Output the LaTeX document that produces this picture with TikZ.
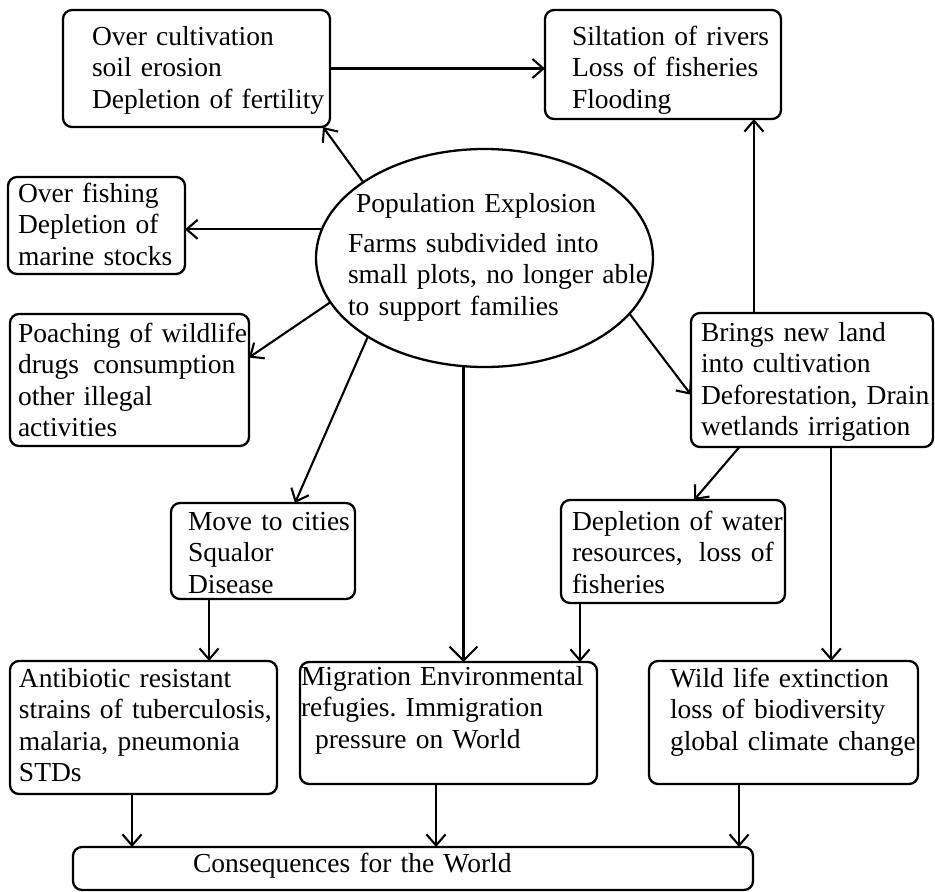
\documentclass[tikz,border=0pt]{standalone}
\usepackage{fontspec}
\setmainfont{Liberation Serif}
\usetikzlibrary{shapes.geometric,arrows.meta,calc}
\frenchspacing
\begin{document}
\begin{tikzpicture}[x=1pt,y=-1pt,
  box/.style={draw, line width=2.3pt, rounded corners=9pt, anchor=north west, inner sep=0pt, outer sep=0pt},
  txt/.style={anchor=base west, inner sep=0pt, outer sep=0pt, align=left, text width=400pt, font=\fontsize{27.5}{31.5}\selectfont},
  arr/.style={line width=2.1pt, -{Straight Barb[length=11pt,width=19pt,line width=2.1pt]}},
  bigarr/.style={line width=2.1pt, -{Straight Barb[length=14pt,width=28pt,line width=2.1pt]}},
]
\useasboundingbox (0,0) rectangle (935,892);

% boxes
\node[box, minimum width=267pt, minimum height=117pt] (over) at (63,10) {};
\node[box, minimum width=236pt, minimum height=109pt] (silt) at (545,10) {};
\node[box, minimum width=177pt, minimum height=97pt] (fish) at (8,177) {};
\node[box, minimum width=239pt, minimum height=132pt] (poach) at (10,314) {};
\node[box, minimum width=242pt, minimum height=134pt] (brings) at (691,313) {};
\node[box, minimum width=184pt, minimum height=96pt] (move) at (171,503) {};
\node[box, minimum width=224pt, minimum height=103pt] (depl) at (561,500) {};
\node[box, minimum width=267pt, minimum height=133pt] (anti) at (10,661) {};
\node[box, minimum width=297pt, minimum height=122pt] (migr) at (300,662) {};
\node[box, minimum width=269pt, minimum height=123pt] (wild) at (649,661) {};
\node[box, minimum width=680pt, minimum height=43pt] (cons) at (73,847) {};
\node[draw, ellipse, line width=2.3pt, minimum width=337pt, minimum height=218pt, inner sep=0pt, outer sep=0pt] (pop) at (484.5,258) {};

% texts
\node[txt] (tover) at (92,45) {Over cultivation\\soil erosion\\Depletion of fertility};
\node[txt] (tsilt) at (572,45) {Siltation of rivers\\Loss of fisheries\\Flooding};
\node[txt] (tfish) at (18,202) {Over fishing\\Depletion of\\marine stocks};
\node[txt] (tpoach) at (18,342) {Poaching of wildlife\\drugs\hspace{5pt} consumption\\other illegal\\activities};
\node[txt] (tpop1) at (356,212) {Population Explosion};
\node[txt] (tpop2) at (348,252) {Farms subdivided into\\small plots, no longer able\\to support families};
\node[txt] (tbrings) at (701,341) {Brings new land\\into cultivation\\Deforestation, Drain\\wetlands irrigation};
\node[txt] (tmove) at (188,530) {Move to cities\\Squalor\\Disease};
\node[txt] (tdepl) at (572,530) {Depletion of water\\resources,\hspace{7pt} loss of\\fisheries};
\node[txt] (tanti) at (19,687) {Antibiotic resistant\\strains of tuberculosis,\\malaria, pneumonia\\STDs};
\node[txt] (tmigr) at (301,685) {Migration Environmental\\refugies. Immigration\\\hspace*{14pt}pressure on World};
\node[txt] (twild) at (670,687) {Wild life extinction\\loss of biodiversity\\global climate change};
\node[txt] (tcons) at (193,872) {Consequences for the World};

% connectors
\draw[arr] (over.east) -- (over.east -| silt.west);
\draw[arr] (pop.148.5) -- ($(over.south west)!0.974!(over.south east)$);
\draw[arr] (pop.170) -- (pop.170 -| fish.east);
\draw[arr] (pop.196.9) -- ($(poach.north east)!0.33!(poach.south east)$);
\draw[arr] (pop.214.9) -- ($(move.north west)!0.674!(move.north east)$);
\draw[bigarr] (pop.259.9) -- (pop.259.9 |- migr.north);
\draw[arr] (pop.339.5) -- ($(brings.north west)!0.61!(brings.south west)$);
\coordinate (bs) at ($(brings.north west)!0.26!(brings.north east)$);
\draw[arr] (bs) -- (bs |- silt.south);
\draw[arr] ($(brings.south west)!0.2!(brings.south east)$) -- ($(depl.north west)!0.594!(depl.north east)$);
\coordinate (bw) at ($(brings.south west)!0.58!(brings.south east)$);
\draw[arr] (bw) -- (bw |- wild.north);
\coordinate (dm) at ($(depl.south west)!0.085!(depl.south east)$);
\draw[arr] (dm) -- (dm |- migr.north);
\coordinate (ma) at ($(move.south west)!0.207!(move.south east)$);
\draw[arr] (ma) -- (ma |- anti.north);
\coordinate (ac) at ($(anti.south west)!0.457!(anti.south east)$);
\draw[arr] (ac) -- (ac |- cons.north);
\coordinate (mc) at ($(migr.south west)!0.458!(migr.south east)$);
\draw[arr] (mc) -- (mc |- cons.north);
\coordinate (wc) at ($(wild.south west)!0.335!(wild.south east)$);
\draw[arr] (wc) -- (wc |- cons.north);
\end{tikzpicture}
\end{document}
